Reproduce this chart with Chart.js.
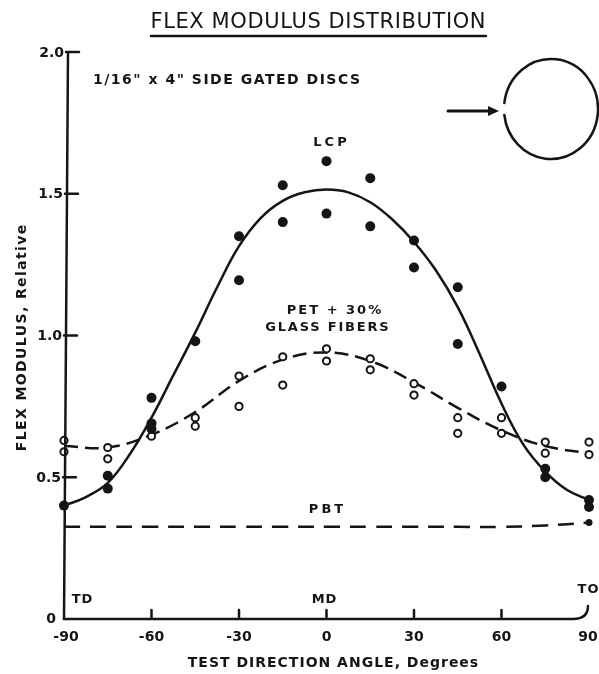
<!DOCTYPE html>
<html>
<head>
<meta charset="utf-8">
<script src="https://cdn.jsdelivr.net/npm/chart.js@4.4.0/dist/chart.umd.min.js"></script>
<style>
  body { margin: 0; background: #fff; }
  #wrap { width: 599px; height: 674px; }
</style>
</head>
<body>
<div id="wrap"><canvas id="flex"></canvas></div>
<script>
// test direction angles, degrees (0 = MD, +-90 = TD)
const angles = [-90, -75, -60, -45, -30, -15, 0, 15, 30, 45, 60, 75, 90];

// fitted curves through the measurements
const lcpCurveAngles = [-90, -82.5, -75, -67.5, -60, -52.5, -45, -37.5, -30, -22.5, -15, -7.5, 0, 7.5, 15, 22.5, 30, 37.5, 45, 52.5, 60, 67.5, 75, 82.5, 90];
const lcpCurve = [0.40, 0.43, 0.48, 0.58, 0.71, 0.86, 1.01, 1.17, 1.315, 1.415, 1.475, 1.505, 1.515, 1.505, 1.47, 1.41, 1.33, 1.23, 1.10, 0.935, 0.76, 0.615, 0.52, 0.455, 0.42];
const petCurve = [0.61, 0.605, 0.65, 0.73, 0.84, 0.915, 0.94, 0.91, 0.835, 0.745, 0.665, 0.61, 0.585];
const pbtCurve = [0.325, 0.325, 0.325, 0.325, 0.325, 0.325, 0.325, 0.325, 0.325, 0.325, 0.325, 0.33, 0.34];

// measured specimens, LCP (filled dots)
const lcpPointAngles = [-90, -75, -75, -60, -60, -60, -45, -30, -30, -15, -15, 0, 0, 15, 15, 30, 30, 45, 45, 60, 75, 75, 90, 90];
const lcpPointValues = [0.40, 0.505, 0.46, 0.78, 0.69, 0.67, 0.98, 1.35, 1.195, 1.53, 1.40, 1.615, 1.43, 1.555, 1.385, 1.335, 1.24, 1.17, 0.97, 0.82, 0.53, 0.50, 0.42, 0.395];

// measured specimens, PET + 30% glass (open circles)
const petPointAngles = [-90, -90, -75, -75, -60, -45, -45, -30, -30, -15, -15, 0, 0, 15, 15, 30, 30, 45, 45, 60, 60, 75, 75, 90, 90];
const petPointValues = [0.63, 0.59, 0.605, 0.565, 0.645, 0.71, 0.68, 0.857, 0.75, 0.925, 0.825, 0.953, 0.91, 0.918, 0.879, 0.83, 0.79, 0.71, 0.655, 0.71, 0.655, 0.624, 0.585, 0.624, 0.58];

// axis ticks
const yTicks = [0.5, 1.0, 1.5, 2.0];
const yTickLabels = ['0.5', '1.0', '1.5', '2.0'];
const xTicks = [-60, -30, 0, 30, 60];
const xTickLabels = ['-90', '-60', '-30', '0', '30', '60', '90'];
const xLabelValues = [-90, -60, -30, 0, 30, 60, 90];

const ink = '#151515';
const font = 'DejaVu Sans';

function pts(xv, yv) {
  return xv.map((x, i) => ({ x: x, y: yv[i] }));
}

// centred text with extra tracking, like the lettering guide
function spaced(ctx, text, x, y, gap) {
  ctx.letterSpacing = gap + 'px';
  ctx.fillText(text, x + gap / 2, y);
  ctx.letterSpacing = '0px';
}

const decor = {
  id: 'decor',
  afterDraw(chart) {
    const ctx = chart.ctx;
    const xs = chart.scales.x, ys = chart.scales.y;
    const x0 = xs.getPixelForValue(-90), x1 = xs.getPixelForValue(90);
    const yBase = ys.getPixelForValue(0), yTop = ys.getPixelForValue(2);
    const axisX = y => x0 + 4 * (yBase - y) / (yBase - yTop);

    ctx.save();
    ctx.strokeStyle = ink;
    ctx.fillStyle = ink;
    ctx.lineWidth = 2.5;
    ctx.lineCap = 'round';

    // y axis, leaning a little like the hand drawn one
    ctx.beginPath();
    ctx.moveTo(axisX(yTop), yTop);
    ctx.lineTo(x0, yBase);
    yTicks.forEach(v => {
      const y = ys.getPixelForValue(v);
      ctx.moveTo(axisX(y) - 2, y);
      ctx.lineTo(axisX(y) + 11, y);
    });
    ctx.stroke();

    // x axis, hooked up at the +90 end
    ctx.beginPath();
    ctx.moveTo(x0, yBase);
    ctx.lineTo(x1 - 16, yBase);
    ctx.quadraticCurveTo(x1 - 1, yBase, x1 - 1, yBase - 13);
    xTicks.forEach(v => {
      const x = xs.getPixelForValue(v);
      ctx.moveTo(x, yBase);
      ctx.lineTo(x, yBase - 9);
    });
    ctx.stroke();

    ctx.font = 'bold 14px "' + font + '"';
    ctx.textBaseline = 'middle';
    ctx.textAlign = 'right';
    yTicks.forEach((v, i) => {
      const y = ys.getPixelForValue(v);
      ctx.fillText(yTickLabels[i], axisX(y) - 4, y + 1);
    });
    ctx.fillText('0', x0 - 8, yBase);

    ctx.textAlign = 'center';
    xLabelValues.forEach((v, i) => {
      let x = xs.getPixelForValue(v);
      if (v === -90) x += 2;
      if (v === 90) x -= 1;
      ctx.fillText(xTickLabels[i], x, yBase + 18);
    });

    // axis titles
    ctx.font = 'bold 14px "' + font + '"';
    spaced(ctx, 'TEST DIRECTION ANGLE, Degrees', 333, 663, 1);
    ctx.save();
    ctx.translate(22, 338);
    ctx.rotate(-Math.PI / 2);
    spaced(ctx, 'FLEX MODULUS, Relative', 0, 0, 1.4);
    ctx.restore();

    // direction markers along the base
    ctx.font = 'bold 13px "' + font + '"';
    spaced(ctx, 'TD', 82, 600, 1);
    spaced(ctx, 'MD', 324, 600, 1);
    spaced(ctx, 'TO', 588, 590, 1);

    // curve labels
    spaced(ctx, 'LCP', 330, 143, 3);
    spaced(ctx, 'PET + 30%', 334, 311, 2);
    spaced(ctx, 'GLASS FIBERS', 327, 328, 1.8);
    spaced(ctx, 'PBT', 326, 510, 3);

    // title with underline
    ctx.font = '21px "' + font + '"';
    spaced(ctx, 'FLEX MODULUS DISTRIBUTION', 318, 23, 0.6);
    ctx.beginPath();
    ctx.moveTo(151, 36);
    ctx.lineTo(486, 36);
    ctx.stroke();

    ctx.textAlign = 'left';
    ctx.font = 'bold 14px "' + font + '"';
    ctx.letterSpacing = '1.5px';
    ctx.fillText('1/16" x 4" SIDE GATED DISCS', 93, 80);
    ctx.letterSpacing = '0px';

    // disc sketch with the side gate arrow
    ctx.beginPath();
    ctx.ellipse(551, 109, 47, 50, 0, Math.PI + 0.12, Math.PI - 0.12);
    ctx.stroke();
    ctx.lineWidth = 3;
    ctx.beginPath();
    ctx.moveTo(448, 111);
    ctx.lineTo(490, 111);
    ctx.stroke();
    ctx.beginPath();
    ctx.moveTo(499, 111);
    ctx.lineTo(488, 106);
    ctx.lineTo(488, 116);
    ctx.closePath();
    ctx.fill();

    ctx.restore();
  }
};

new Chart(document.getElementById('flex'), {
  type: 'line',
  data: {
    datasets: [
      {
        label: 'LCP measured',
        data: pts(lcpPointAngles, lcpPointValues),
        showLine: false,
        pointRadius: 5,
        pointBackgroundColor: ink,
        pointBorderColor: ink,
        pointBorderWidth: 0,
        clip: false
      },
      {
        label: 'PET measured',
        data: pts(petPointAngles, petPointValues),
        showLine: false,
        pointRadius: 3.6,
        pointBackgroundColor: '#fff',
        pointBorderColor: ink,
        pointBorderWidth: 2,
        clip: false
      },
      {
        label: 'LCP',
        data: pts(lcpCurveAngles, lcpCurve),
        borderColor: ink,
        borderWidth: 2.5,
        pointRadius: 0,
        tension: 0.4,
        clip: false
      },
      {
        label: 'PET + 30% glass fibers',
        data: pts(angles, petCurve),
        borderColor: ink,
        borderWidth: 2.5,
        borderDash: [14, 7],
        pointRadius: 0,
        tension: 0.4,
        clip: false
      },
      {
        label: 'PBT',
        data: pts(angles, pbtCurve),
        borderColor: ink,
        borderWidth: 2.5,
        borderDash: [16, 10],
        pointRadius: angles.map(a => (a === 90 ? 3.5 : 0)),
        pointBackgroundColor: ink,
        pointBorderWidth: 0,
        tension: 0.4,
        clip: false
      }
    ]
  },
  options: {
    responsive: true,
    maintainAspectRatio: false,
    animation: false,
    layout: { padding: { left: 64, right: 10, top: 52, bottom: 55 } },
    scales: {
      x: { type: 'linear', min: -90, max: 90, display: false },
      y: { type: 'linear', min: 0, max: 2.0, display: false }
    },
    plugins: {
      legend: { display: false },
      tooltip: { enabled: false }
    }
  },
  plugins: [decor]
});
</script>
</body>
</html>
